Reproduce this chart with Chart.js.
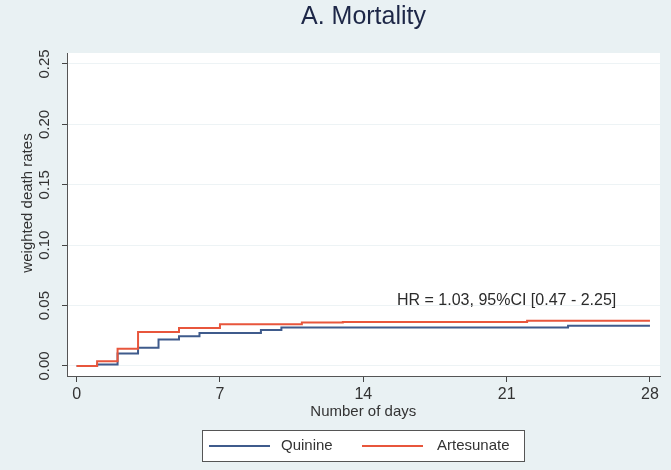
<!DOCTYPE html>
<html>
<head>
<meta charset="utf-8">
<script src="https://cdn.jsdelivr.net/npm/chart.js@4.4.1/dist/chart.umd.min.js"></script>
<style>
  html, body { margin: 0; padding: 0; background: #e9f1f3; }
  canvas { display: block; }
</style>
</head>
<body>
<canvas id="km" width="671" height="470"></canvas>
<script>
// Kaplan-Meier style cumulative weighted death rates by treatment arm
const quinineDays   = [0, 1, 2, 3, 4, 5, 6, 9, 10, 24, 28];
const quinineRates  = [0, 0.0012, 0.0103, 0.0150, 0.0219, 0.0246, 0.0273, 0.0297, 0.0318, 0.0334, 0.0334];
const artesunateDays  = [0, 1, 2, 3, 5, 7, 11, 13, 22, 28];
const artesunateRates = [0, 0.0040, 0.0143, 0.0281, 0.0315, 0.0346, 0.0360, 0.0365, 0.0374, 0.0374];

const xTickValues = [0, 7, 14, 21, 28];
const yTickValues = [0, 0.05, 0.10, 0.15, 0.20, 0.25];
const yTickLabels = ['0.00', '0.05', '0.10', '0.15', '0.20', '0.25'];

const titleText = 'A. Mortality';
const xTitle = 'Number of days';
const yTitle = 'weighted death rates';
const hrText = 'HR = 1.03, 95%CI [0.47 - 2.25]';
const hrAt = { day: 21, rate: 0.054 };

const seriesNames = ['Quinine', 'Artesunate'];
const blue = '#3f5b8c';
const red = '#e8563c';
const FONT = 'Liberation Sans, Arial, Helvetica, sans-serif';

function toPoints(xs, ys) { return xs.map((x, i) => ({ x: x, y: ys[i] })); }

const decor = {
  id: 'decor',
  beforeDraw(chart) {
    const { ctx, chartArea: a } = chart;
    ctx.save();
    ctx.fillStyle = '#e9f1f3';
    ctx.fillRect(0, 0, chart.width, chart.height);
    ctx.fillStyle = '#ffffff';
    ctx.fillRect(a.left, a.top, a.right - a.left, a.bottom - a.top);
    ctx.restore();
  },
  afterDraw(chart) {
    const { ctx, chartArea: a, scales } = chart;
    const ys = scales.y, xs = scales.x;
    ctx.save();
    // title
    ctx.fillStyle = '#1d2747';
    ctx.font = '25px ' + FONT;
    ctx.textAlign = 'center';
    ctx.textBaseline = 'middle';
    ctx.fillText(titleText, (a.left + a.right) / 2, 17);

    // rotated y tick labels
    ctx.fillStyle = '#333333';
    ctx.font = '15px ' + FONT;
    yTickValues.forEach((v, i) => {
      const py = ys.getPixelForValue(v);
      ctx.save();
      ctx.translate(45, py);
      ctx.rotate(-Math.PI / 2);
      ctx.textAlign = 'center';
      ctx.textBaseline = 'middle';
      ctx.fillText(yTickLabels[i], 0, 0);
      ctx.restore();
    });
    // y title
    ctx.save();
    ctx.translate(28, 203);
    ctx.rotate(-Math.PI / 2);
    ctx.textAlign = 'center';
    ctx.textBaseline = 'middle';
    ctx.fillText(yTitle, 0, 0);
    ctx.restore();

    // x title
    ctx.textAlign = 'center';
    ctx.textBaseline = 'middle';
    ctx.fillText(xTitle, (xs.getPixelForValue(0) + xs.getPixelForValue(28)) / 2, 412);

    // hazard ratio note
    ctx.font = '16px ' + FONT;
    ctx.fillStyle = '#2b2b2b';
    ctx.fillText(hrText, xs.getPixelForValue(hrAt.day), ys.getPixelForValue(hrAt.rate));

    // legend box
    const bx = 202, by = 430, bw = 322, bh = 31;
    ctx.fillStyle = '#ffffff';
    ctx.fillRect(bx, by, bw, bh);
    ctx.strokeStyle = '#555555';
    ctx.lineWidth = 1;
    ctx.strokeRect(bx + 0.5, by + 0.5, bw, bh);
    const ly = by + bh / 2 + 0.5;
    const entries = [
      { color: blue, x0: 209, x1: 270, tx: 281, label: seriesNames[0] },
      { color: red, x0: 362, x1: 423, tx: 437, label: seriesNames[1] }
    ];
    ctx.font = '15px ' + FONT;
    entries.forEach(e => {
      ctx.strokeStyle = e.color;
      ctx.lineWidth = 2;
      ctx.beginPath();
      ctx.moveTo(e.x0, ly);
      ctx.lineTo(e.x1, ly);
      ctx.stroke();
      ctx.fillStyle = '#333333';
      ctx.textAlign = 'left';
      ctx.textBaseline = 'middle';
      ctx.fillText(e.label, e.tx, ly);
    });
    ctx.restore();
  }
};

new Chart(document.getElementById('km'), {
  type: 'line',
  data: {
    datasets: [
      {
        label: seriesNames[0],
        data: toPoints(quinineDays, quinineRates),
        borderColor: blue,
        borderWidth: 2,
        pointRadius: 0,
        stepped: 'before',
        fill: false,
        order: 1
      },
      {
        label: seriesNames[1],
        data: toPoints(artesunateDays, artesunateRates),
        borderColor: red,
        borderWidth: 2,
        pointRadius: 0,
        stepped: 'before',
        fill: false,
        order: 0
      }
    ]
  },
  options: {
    responsive: false,
    animation: false,
    devicePixelRatio: 1,
    layout: { padding: { top: 53, right: 11, left: 0, bottom: 0 } },
    plugins: { legend: { display: false }, tooltip: { enabled: false }, title: { display: false } },
    scales: {
      x: {
        type: 'linear',
        min: -0.47,
        max: 28.49,
        afterBuildTicks(scale) { scale.ticks = xTickValues.map(v => ({ value: v })); },
        afterFit(scale) { scale.height = 94; },
        grid: { drawOnChartArea: false, tickLength: 6, tickColor: '#444444' },
        border: { display: true, color: '#555555', width: 1 },
        ticks: {
          color: '#333333',
          font: { family: FONT, size: 16 },
          padding: 3,
          maxRotation: 0,
          callback: v => String(v)
        }
      },
      y: {
        type: 'linear',
        min: -0.0083,
        max: 0.2591,
        afterBuildTicks(scale) { scale.ticks = yTickValues.map(v => ({ value: v })); },
        afterFit(scale) { scale.width = 67; },
        grid: { color: '#edf3f5', tickLength: 5, tickColor: '#444444' },
        border: { display: true, color: '#555555', width: 1 },
        ticks: { display: false }
      }
    }
  },
  plugins: [decor]
});
</script>
</body>
</html>
